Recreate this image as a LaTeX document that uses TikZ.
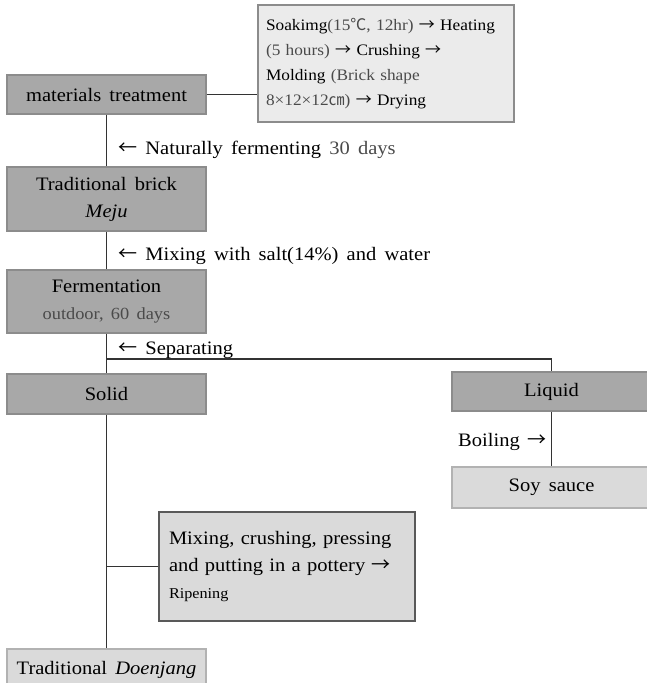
\documentclass[tikz,border=0pt]{standalone}
\usepackage{fontspec}
\setmainfont{Liberation Serif}[WordSpace=1.6, FakeStretch=1.08]
\newfontfamily\cjk{Noto Sans CJK KR}
\newcommand{\ra}{{\cjk →}}
\newcommand{\la}{{\cjk ←}}
\usetikzlibrary{calc}
\definecolor{darkfill}{HTML}{A8A8A8}
\definecolor{darkborder}{HTML}{8C8C8C}
\definecolor{lightfill}{HTML}{DADADA}
\definecolor{palefill}{HTML}{EBEBEB}
\definecolor{softtext}{HTML}{4A4A4A}
\definecolor{linecol}{HTML}{333333}
\tikzset{
  darkbox/.style={draw=darkborder, fill=darkfill, line width=1.2pt, minimum width=199pt, align=center, inner sep=0pt, font=\fontsize{19}{27}\selectfont},
  lightbox/.style={draw=#1, fill=lightfill, line width=1.2pt, minimum width=199pt, align=center, inner sep=0pt, font=\fontsize{19}{27}\selectfont},
  conn/.style={draw=linecol, line width=1.1pt},
  lab/.style={anchor=west, inner sep=0pt, font=\fontsize{19}{22}\selectfont}
}
\begin{document}
\begin{tikzpicture}[x=1pt,y=1pt]
\useasboundingbox (0,0) rectangle (647,-683);
% boxes
\node[darkbox, minimum height=39pt] (mat) at (106.5,-94.5) {materials treatment};
\node[draw=darkborder, fill=palefill, line width=1.2pt, minimum width=256pt, minimum height=117pt, text width=240pt, align=left, inner xsep=8pt, inner ysep=0pt, font=\fontsize{16}{25}\selectfont] (soak) at (386,-63.5)
 {Soakimg\textcolor{softtext}{(15{\cjk ℃}, 12hr)} \ra{} Heating\\
  \textcolor{softtext}{(5 hours)} \ra{} Crushing \ra\\
  Molding \textcolor{softtext}{(Brick shape}\\
  \textcolor{softtext}{8×12×12{\cjk ㎝})} \ra{} Drying};
\node[darkbox, minimum height=64pt] (meju) at (106.5,-199) {Traditional brick\\\textit{Meju}};
\node[darkbox, minimum height=63pt] (ferm) at (106.5,-301.5) {Fermentation\\{\fontsize{17}{27}\selectfont\color{softtext}outdoor, 60 days}};
\node[darkbox, minimum height=40pt] (solid) at (106.5,-394) {Solid};
\node[darkbox, minimum height=39pt] (liquid) at (551.5,-391.5) {Liquid};
\node[lightbox=black!30, minimum height=41pt] (soy) at (551.5,-487.5) {Soy sauce};
\node[draw=black!65, fill=lightfill, line width=1.2pt, minimum width=256pt, minimum height=109pt, text width=236pt, align=left, inner xsep=10pt, inner ysep=0pt, font=\fontsize{19}{27}\selectfont] (mix) at (287,-566.5)
 {Mixing, crushing, pressing\\and putting in a pottery \ra\\{\fontsize{15}{27}\selectfont Ripening}};
\node[lightbox=black!30, minimum height=41pt] (doen) at (106.5,-669.5) {Traditional \textit{Doenjang}};
% connectors
\coordinate (split) at (106.5,-359);
\draw[conn] (mat.east) -- (mat.east -| soak.west);
\draw[conn] (mat.south) -- (meju.north);
\draw[conn] (meju.south) -- (ferm.north);
\draw[conn] (ferm.south) -- (solid.north);
\draw[conn] (split) -| (liquid.north);
\draw[conn] (liquid.south) -- (soy.north);
\draw[conn] (solid.south) -- (doen.north);
\draw[conn] (mix.west) -- (mix.west -| solid.south);
% labels
\node[lab] (lnat) at (118,-150) {\la{} Naturally fermenting \textcolor{softtext}{30 days}};
\node[lab] (lsalt) at (118,-256) {\la{} Mixing with salt(14\%) and water};
\node[lab] (lsep) at (118,-350.5) {\la{} Separating};
\node[lab] (lboil) at (458,-441.5) {Boiling \ra};
\end{tikzpicture}
\end{document}
